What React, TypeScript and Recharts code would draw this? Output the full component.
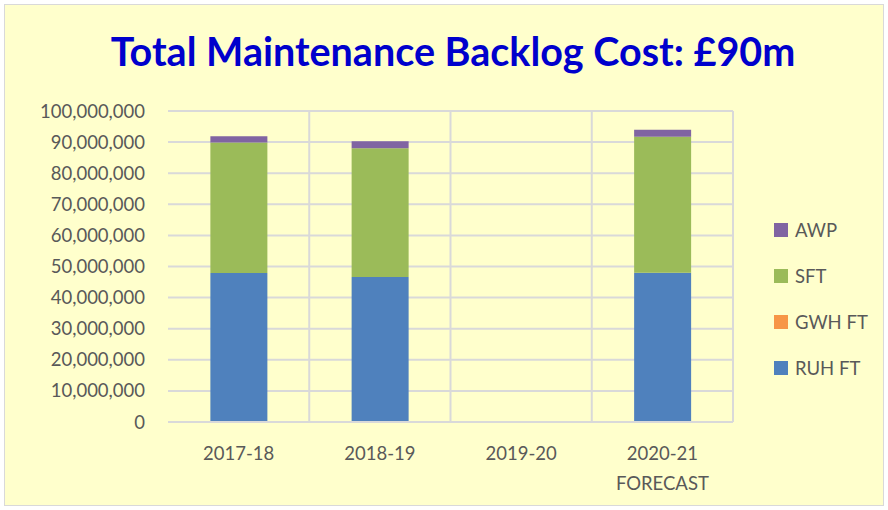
import { BarChart, Bar, XAxis, YAxis, CartesianGrid } from 'recharts';

const years = ['2017-18', '2018-19', '2019-20', '2020-21 FORECAST'];
const ruhFt = [47900000, 46600000, 0, 48000000];
const gwhFt = [0, 0, 0, 0];
const sft = [42000000, 41400000, 0, 43700000];
const awp = [2000000, 2300000, 0, 2300000];
const yTicks = [0, 10000000, 20000000, 30000000, 40000000, 50000000, 60000000, 70000000, 80000000, 90000000, 100000000];

const series = [
  { key: 'RUH FT', color: '#4F81BD' },
  { key: 'GWH FT', color: '#F79646' },
  { key: 'SFT', color: '#9BBB59' },
  { key: 'AWP', color: '#8064A2' },
];

const data = years.map((year, i) => ({
  year,
  'RUH FT': ruhFt[i],
  'GWH FT': gwhFt[i],
  SFT: sft[i],
  AWP: awp[i],
}));

const FONT = 'Lato, "Open Sans", sans-serif';
const TEXT = '#595959';
const GRID = '#D9D9D9';

const YearTick = ({ x, y, payload }: any) => {
  const parts = String(payload.value).split(' ');
  return (
    <text x={x} y={y} textAnchor="middle" fill={TEXT} fontSize={18.5} fontFamily={FONT}>
      {parts.map((p, i) => (
        <tspan key={i} x={x} dy={i === 0 ? 30 : 30}>{p}</tspan>
      ))}
    </text>
  );
};

export default function App() {
  return (
    <div style={{ position: 'fixed', left: 0, top: 0, width: 888, height: 510, background: '#fff' }}>
      <div
        style={{
          position: 'absolute', left: 4, top: 4, width: 880, height: 502,
          background: '#FFFFCC', border: '1px solid #D9D9D9', boxSizing: 'border-box',
        }}
      />
      <div
        style={{
          position: 'absolute', left: 0, top: 27, width: 906, textAlign: 'center',
          color: '#0000CC', fontFamily: FONT, fontWeight: 700, fontSize: 39.5,
        }}
      >
        Total Maintenance Backlog Cost: £90m
      </div>
      <div style={{ position: 'absolute', left: 0, top: 0 }}>
        <BarChart
          width={888}
          height={510}
          data={data}
          margin={{ top: 111, right: 155, bottom: 58, left: 0 }}
          barCategoryGap="30%"
        >
          <CartesianGrid
            stroke={GRID}
            strokeWidth={2}
            verticalCoordinatesGenerator={({ offset }: any) =>
              years.map((_, i) => offset.left + (i + 1) * (offset.width / years.length))
            }
          />
          <XAxis
            dataKey="year"
            height={30}
            tick={<YearTick />}
            tickLine={false}
            axisLine={{ stroke: GRID, strokeWidth: 2 }}
            interval={0}
          />
          <YAxis
            width={168}
            domain={[0, 100000000]}
            ticks={yTicks}
            tickFormatter={(v: number) => v.toLocaleString('en-US')}
            tick={{ fill: TEXT, fontSize: 18.5, fontFamily: FONT }}
            tickLine={false}
            axisLine={false}
            tickMargin={17}
            interval={0}
          />
          {series.map((s) => (
            <Bar key={s.key} dataKey={s.key} stackId="a" fill={s.color} isAnimationActive={false} />
          ))}
        </BarChart>
      </div>
      <div
        style={{
          position: 'absolute', left: 774, top: 219,
          display: 'flex', flexDirection: 'column', gap: 24,
        }}
      >
        {[...series].reverse().map((s) => (
          <div key={s.key} style={{ display: 'flex', alignItems: 'center', gap: 7, height: 22 }}>
            <div style={{ width: 14, height: 14, background: s.color }} />
            <span style={{ color: TEXT, fontSize: 18.5, fontFamily: FONT }}>{s.key}</span>
          </div>
        ))}
      </div>
    </div>
  );
}
